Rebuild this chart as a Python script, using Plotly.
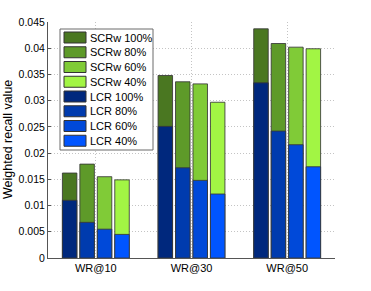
import plotly.graph_objects as go

categories = ["WR@10", "WR@30", "WR@50"]
levels = ["100%", "80%", "60%", "40%"]

# SCRw totals (green, full bar height) per level, per category
scrw_100 = [0.0162, 0.0348, 0.0437]
scrw_80 = [0.0179, 0.0336, 0.0409]
scrw_60 = [0.0155, 0.0332, 0.0402]
scrw_40 = [0.0149, 0.0297, 0.0399]

# LCR values (blue, front bar) per level, per category
lcr_100 = [0.0110, 0.0251, 0.0334]
lcr_80 = [0.0068, 0.0172, 0.0242]
lcr_60 = [0.0055, 0.0148, 0.0216]
lcr_40 = [0.0045, 0.0122, 0.0174]

y_ticks = [0, 0.005, 0.01, 0.015, 0.02, 0.025, 0.03, 0.035, 0.04, 0.045]
y_tick_labels = ["0", "0.005", "0.01", "0.015", "0.02", "0.025", "0.03", "0.035", "0.04", "0.045"]
y_title = "Weighted recall value"

scrw_series = [scrw_100, scrw_80, scrw_60, scrw_40]
lcr_series = [lcr_100, lcr_80, lcr_60, lcr_40]
green_colors = ["#4a7721", "#5e9a29", "#80cb37", "#a2f544"]
blue_colors = ["#00287d", "#003bae", "#0049d9", "#0055ff"]

FONT = "Liberation Sans, Arial, Helvetica, sans-serif"
OFF = 0  # page body margin removed via post_script
W, H = 371, 291
ML, MR, MT, MB = 48, 36, 22, 33

fig = go.Figure()
edge = "rgba(55,55,55,0.85)"
for i, lv in enumerate(levels):
    fig.add_trace(go.Bar(
        x=categories, y=scrw_series[i], name="SCRw " + lv,
        offsetgroup=str(i), marker=dict(color=green_colors[i], line=dict(color=edge, width=1)),
        showlegend=False,
    ))
for i, lv in enumerate(levels):
    fig.add_trace(go.Bar(
        x=categories, y=lcr_series[i], name="LCR " + lv,
        offsetgroup=str(i), marker=dict(color=blue_colors[i], line=dict(color=edge, width=1)),
        showlegend=False,
    ))

# manual legend (screen pixel -> paper conversion)
pw = W - ML - MR
ph = H - MT - MB

def px(x):
    return (x - OFF - ML) / pw

def py(y):
    return (H - MB - (y - OFF)) / ph

shapes = []
annotations = []
shapes.append(dict(type="rect", xref="paper", yref="paper",
                   x0=px(60), x1=px(153), y0=py(150), y1=py(29),
                   fillcolor="white", line=dict(color="#6a6a6a", width=1), layer="above"))
legend_names = ["SCRw " + lv for lv in levels] + ["LCR " + lv for lv in levels]
legend_colors = green_colors + blue_colors
for k, (nm, col) in enumerate(zip(legend_names, legend_colors)):
    top = 32 + k * 14.75
    shapes.append(dict(type="rect", xref="paper", yref="paper",
                       x0=px(64), x1=px(86), y0=py(top + 11), y1=py(top),
                       fillcolor=col, line=dict(color="#333333", width=1), layer="above"))
    annotations.append(dict(xref="paper", yref="paper", x=px(88), y=py(top + 5.5),
                            text=nm, showarrow=False, xanchor="left", yanchor="middle",
                            font=dict(family=FONT, size=11, color="black")))

# y-axis title as rotated annotation
annotations.append(dict(xref="paper", yref="paper", x=px(8), y=0.5, text=y_title,
                        textangle=-90, showarrow=False, xanchor="center", yanchor="middle",
                        font=dict(family=FONT, size=12.5, color="black")))

fig.update_layout(
    width=W, height=H,
    margin=dict(l=ML, r=MR, t=MT, b=MB, pad=0, autoexpand=False),
    paper_bgcolor="white", plot_bgcolor="white",
    barmode="group", bargap=0.27, bargroupgap=0.17,
    font=dict(family=FONT, size=10.5, color="black"),
    shapes=shapes, annotations=annotations,
    showlegend=False,
)
fig.update_xaxes(
    range=[-0.5, 2.5], showline=True, linecolor="#555555", linewidth=1,
    showgrid=True, gridcolor="#c4c4c4", griddash="1px,2px", gridwidth=1,
    ticks="", tickfont=dict(size=11), zeroline=False, automargin=False,
)
fig.update_yaxes(
    range=[0, 0.045], tickvals=y_ticks, ticktext=y_tick_labels,
    showline=True, linecolor="#555555", linewidth=1,
    showgrid=True, gridcolor="#c4c4c4", griddash="1px,2px", gridwidth=1,
    ticks="inside", ticklen=3, tickcolor="#555555", zeroline=False, automargin=False,
)

fig.write_html("out.html", config={"displayModeBar": False},
               post_script="document.body.style.margin='0';")
